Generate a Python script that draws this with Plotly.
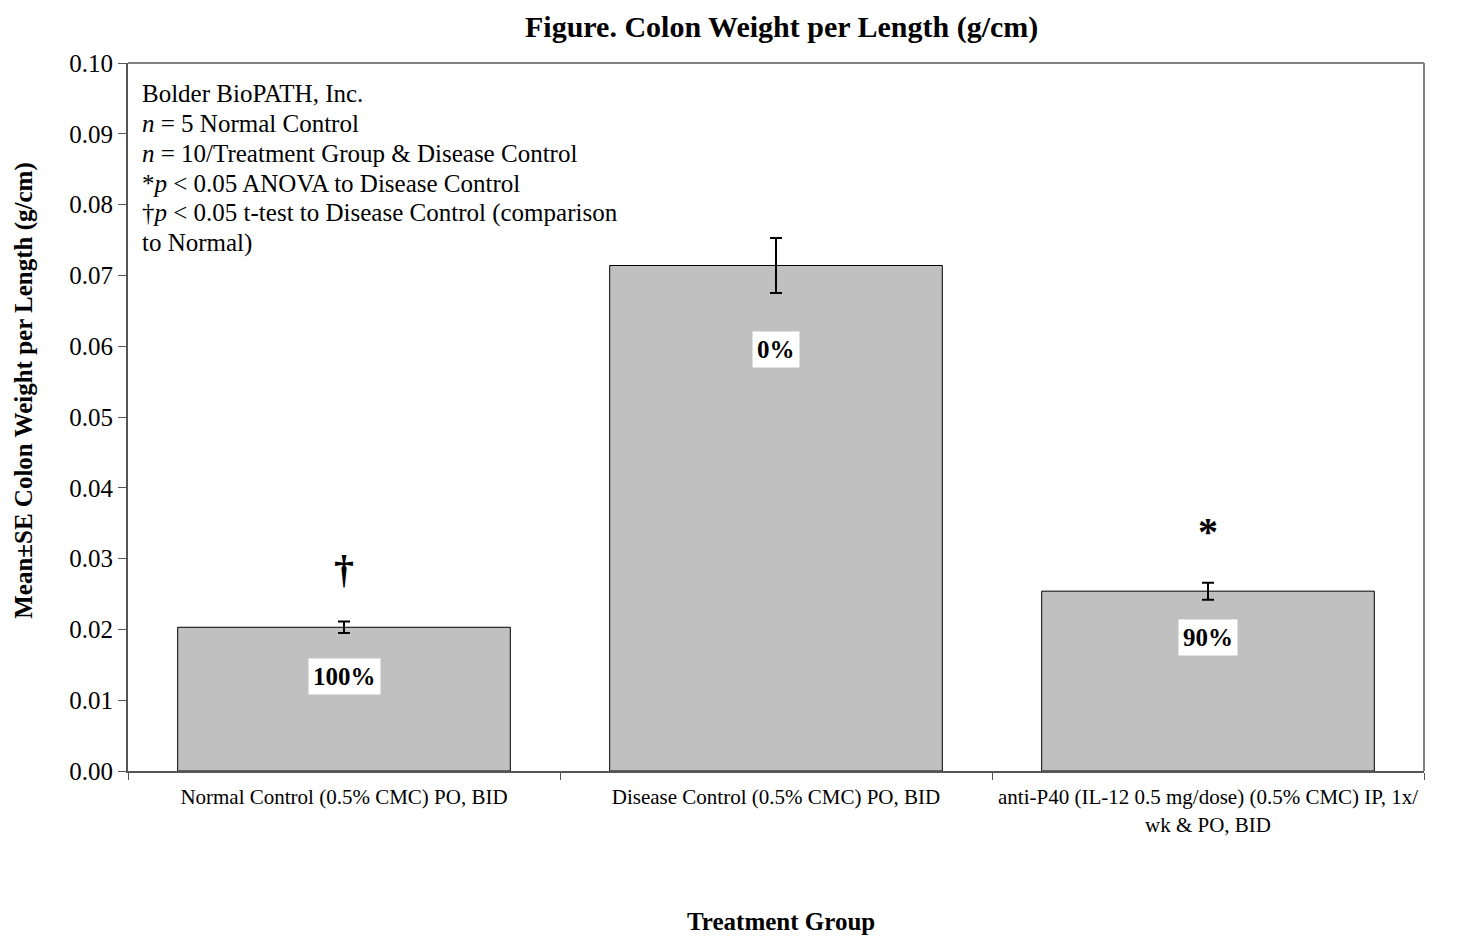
import plotly.graph_objects as go

categories = ["Normal Control (0.5% CMC) PO, BID",
              "Disease Control (0.5% CMC) PO, BID",
              "anti-P40 (IL-12 0.5 mg/dose) (0.5% CMC) IP, 1x/<br>wk & PO, BID"]
means = [0.0203, 0.0714, 0.0254]
se = [0.0008, 0.0039, 0.0012]
pct_labels = ["100%", "0%", "90%"]
pct_label_y = [0.0133, 0.0595, 0.0188]
sig_marks = ["†", "", "*"]
sig_y = [0.0285, None, 0.0338]
note_lines = ["Bolder BioPATH, Inc.",
              "<i>n</i> = 5 Normal Control",
              "<i>n</i> = 10/Treatment Group &amp; Disease Control",
              "*<i>p</i> &lt; 0.05 ANOVA to Disease Control",
              "†<i>p</i> &lt; 0.05 t-test to Disease Control (comparison",
              "to Normal)"]

FONT = "Liberation Serif, Times New Roman, serif"

fig = go.Figure()
fig.add_trace(go.Bar(
    x=categories, y=means, width=0.77,
    marker=dict(color="#c0c0c0", line=dict(color="black", width=1)),
    error_y=dict(type="data", array=se, visible=True, color="black", thickness=2, width=6),
    showlegend=False, hoverinfo="skip"))

annotations = []
for c, lab, ly in zip(categories, pct_labels, pct_label_y):
    annotations.append(dict(x=c, y=ly, xref="x", yref="y", text="<b>" + lab + "</b>",
                            showarrow=False, bgcolor="white", borderpad=4,
                            font=dict(family=FONT, size=25, color="black")))
for c, m, sy in zip(categories, sig_marks, sig_y):
    if m:
        annotations.append(dict(x=c, y=sy, xref="x", yref="y", text="<b>" + m + "</b>",
                                showarrow=False, font=dict(family=FONT, size=40, color="black")))

for i, line in enumerate(note_lines):
    annotations.append(dict(x=0, y=1, xref="paper", yref="paper", xanchor="left", yanchor="middle",
                            xshift=12, yshift=-30 - 30 * i, text=line, align="left", showarrow=False,
                            font=dict(family=FONT, size=25, color="black")))
annotations.append(dict(x=0.504, y=1, xref="paper", yref="paper", yanchor="middle",
                        yshift=36, text="<b>Figure. Colon Weight per Length (g/cm)</b>",
                        showarrow=False, font=dict(family=FONT, size=30, color="black")))
annotations.append(dict(x=0.504, y=0, xref="paper", yref="paper", yanchor="middle",
                        yshift=-150, text="<b>Treatment Group</b>",
                        showarrow=False, font=dict(family=FONT, size=25, color="black")))
annotations.append(dict(x=0, y=0.537, xref="paper", yref="paper", xanchor="center", yanchor="middle",
                        xshift=-104, textangle=-90, text="<b>Mean±SE Colon Weight per Length (g/cm)</b>",
                        showarrow=False, font=dict(family=FONT, size=25, color="black")))

fig.update_layout(
    width=1460, height=938,
    margin=dict(l=128, r=36, t=63, b=167),
    paper_bgcolor="white", plot_bgcolor="white",
    font=dict(family=FONT, color="black"),
    annotations=annotations,
    shapes=[dict(type="line", xref="paper", yref="paper", x0=0, x1=1, y0=1, y1=1,
                 line=dict(color="#808080", width=2), layer="above"),
            dict(type="line", xref="paper", yref="paper", x0=1, x1=1, y0=0, y1=1,
                 line=dict(color="#808080", width=2), layer="above")],
)
fig.update_xaxes(type="category", tickson="boundaries", ticks="outside", ticklen=7,
                 tickcolor="#555555", showline=True, linecolor="#555555", linewidth=2,
                 showgrid=False, tickfont=dict(family=FONT, size=21, color="black"),
                 ticklabelstandoff=6, range=[-0.5, 2.5])
fig.update_yaxes(range=[0, 0.1], dtick=0.01, tickformat=".2f", ticks="outside", ticklen=8,
                 tickcolor="#555555", showline=True, linecolor="#555555", linewidth=2,
                 showgrid=False, zeroline=False, tickfont=dict(family=FONT, size=25, color="black"))

fig.write_html("out.html")
